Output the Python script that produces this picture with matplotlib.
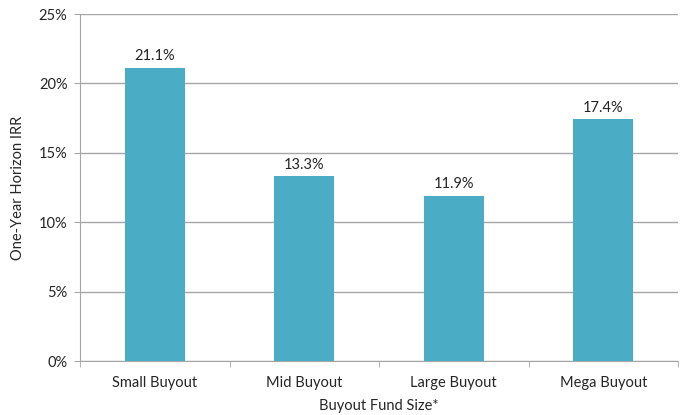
import matplotlib.pyplot as plt
import numpy as np
from matplotlib.ticker import FuncFormatter, FixedLocator

categories = ['Small Buyout', 'Mid Buyout', 'Large Buyout', 'Mega Buyout']
irr = [21.1, 13.3, 11.9, 17.4]
yticks = [0, 5, 10, 15, 20, 25]

plt.rcParams['font.family'] = ['Lato', 'DejaVu Sans']
txt = '#262626'
grid = '#a6a6a6'

fig = plt.figure(figsize=(6.88, 4.15), dpi=100)
ax = fig.add_axes([80 / 688, 1 - 361 / 415, 598 / 688, 347 / 415])

x = np.arange(len(categories))
bars = ax.bar(x, irr, width=0.4, color='#4BACC6', zorder=3)

for b, v in zip(bars, irr):
    ax.text(b.get_x() + b.get_width() / 2, v + 0.35, f'{v:.1f}%',
            ha='center', va='bottom', fontsize=10.5, color=txt)

ax.set_xlim(-0.5, len(categories) - 0.5)
ax.set_ylim(0, 25)
ax.set_yticks(yticks)
ax.yaxis.set_major_formatter(FuncFormatter(lambda v, p: f'{v:.0f}%'))
ax.grid(axis='y', color=grid, linewidth=1, zorder=0)

# category labels in the middle, tick marks on the boundaries
ax.set_xticks(x)
ax.set_xticklabels(categories)
ax.xaxis.set_minor_locator(FixedLocator(np.arange(-0.5, len(categories), 1)))
ax.tick_params(axis='x', which='major', length=0, pad=11, labelsize=10.5, labelcolor=txt)
ax.tick_params(axis='x', which='minor', length=4, color=grid, direction='out')
ax.tick_params(axis='y', length=4, color=grid, labelsize=10.5, labelcolor=txt, pad=5)

for s in ['top', 'right']:
    ax.spines[s].set_visible(False)
for s in ['left', 'bottom']:
    ax.spines[s].set_color(grid)

ax.set_xlabel('Buyout Fund Size*', fontsize=10.5, color=txt, labelpad=6)
ax.set_ylabel('One-Year Horizon IRR', fontsize=10.5, color=txt, labelpad=10)

fig.savefig('out.png', dpi=100)
